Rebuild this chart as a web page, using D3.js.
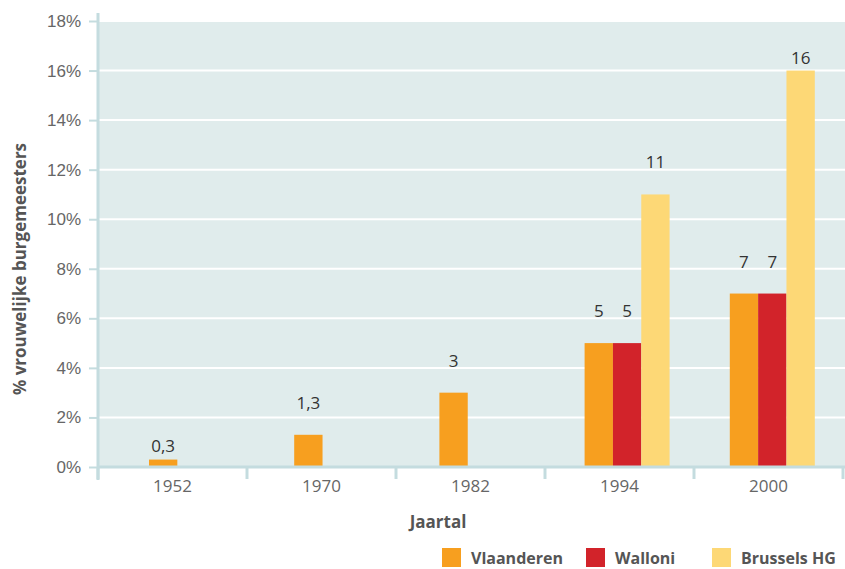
<!DOCTYPE html>
<html>
<head>
<meta charset="utf-8">
<script src="https://cdn.jsdelivr.net/npm/d3@7"></script>
<style>
  body { margin: 0; background: #fff; }
  svg { font-family: "Open Sans", "Noto Sans", sans-serif; }
</style>
</head>
<body>
<div id="chart"></div>
<script>
// data
const years = ["1952", "1970", "1982", "1994", "2000"];
const series = ["Vlaanderen", "Walloni", "Brussels HG"];
const vlaanderen = [0.3, 1.3, 3, 5, 7];
const walloni = [null, null, null, 5, 7];
const brussels = [null, null, null, 11, 16];
const valueLabels = [["0,3", "1,3", "3", "5", "7"], [null, null, null, "5", "7"], [null, null, null, "11", "16"]];
const yTicks = [0, 2, 4, 6, 8, 10, 12, 14, 16, 18];
const colors = ["#f79f1f", "#d2232a", "#fdd876"];

const width = 845, height = 569;
const margin = { top: 21, right: 2, bottom: 102, left: 98 };

const svg = d3.select("#chart").append("svg")
  .attr("width", width).attr("height", height);

// scales
// x0: axis categories, xg: bar groups (slightly tighter spacing than the ticks, as in the original)
const x0 = d3.scaleBand().domain(years).range([margin.left, width - margin.right]);
const xg = d3.scaleBand().domain(years).range([104, 830]);
const x1 = d3.scaleBand().domain(series).range([45, 130]);
const y = d3.scaleLinear().domain([0, 18]).range([height - margin.bottom, margin.top]);

// background + grid
svg.append("rect")
  .attr("x", margin.left).attr("y", y(18))
  .attr("width", width - margin.left).attr("height", y(0) - y(18))
  .attr("fill", "#e0ecec");

svg.append("g").selectAll("line").data(yTicks.filter(d => d > 0)).join("line")
  .attr("x1", margin.left).attr("x2", width)
  .attr("y1", d => y(d)).attr("y2", d => y(d))
  .attr("stroke", "#fff").attr("stroke-width", 2);

// y axis
const yAxis = svg.append("g")
  .attr("transform", `translate(${margin.left},0)`)
  .call(d3.axisLeft(y).tickValues(yTicks).tickSize(9).tickPadding(8).tickFormat(d => d + "%"));
yAxis.select(".domain").remove();
yAxis.selectAll(".tick line").attr("stroke", "#c4dcdf").attr("stroke-width", 2);
yAxis.selectAll("text").attr("fill", "#666").style("font-size", "17px");
svg.append("line")
  .attr("x1", margin.left).attr("x2", margin.left)
  .attr("y1", 13).attr("y2", y(0) + 13)
  .attr("stroke", "#c4dcdf").attr("stroke-width", 3);

// bars
const seriesData = [vlaanderen, walloni, brussels];
seriesData.forEach((vals, si) => {
  const g = svg.append("g");
  const rows = years.map((yr, i) => ({ yr, v: vals[i], label: valueLabels[si][i] })).filter(d => d.v != null);
  g.selectAll("rect").data(rows).join("rect")
    .attr("x", d => xg(d.yr) + x1(series[si]))
    .attr("y", d => y(d.v))
    .attr("width", x1.bandwidth())
    .attr("height", d => y(0) - y(d.v))
    .attr("fill", colors[si]);
  g.selectAll("text").data(rows).join("text")
    .attr("x", d => xg(d.yr) + x1(series[si]) + x1.bandwidth() / 2)
    .attr("y", d => d.v < 1 ? y(d.v) - 8 : Math.max(y(d.v) - 26, 64))
    .attr("text-anchor", "middle")
    .attr("fill", "#333")
    .style("font-size", "17px")
    .text(d => d.label);
});

// x axis
svg.append("line")
  .attr("x1", margin.left).attr("x2", width)
  .attr("y1", y(0)).attr("y2", y(0))
  .attr("stroke", "#c4dcdf").attr("stroke-width", 3);
const bounds = years.map(d => x0(d)).concat([x0.range()[1]]);
svg.append("g").selectAll("line").data(bounds).join("line")
  .attr("x1", d => d).attr("x2", d => d)
  .attr("y1", y(0)).attr("y2", y(0) + 12)
  .attr("stroke", "#c4dcdf").attr("stroke-width", 3);
svg.append("g").selectAll("text").data(years).join("text")
  .attr("x", d => x0(d) + x0.bandwidth() / 2)
  .attr("y", y(0) + 25)
  .attr("text-anchor", "middle")
  .attr("fill", "#666")
  .style("font-size", "17px")
  .text(d => d);

// axis titles
svg.append("text")
  .attr("x", 438).attr("y", 528)
  .attr("text-anchor", "middle")
  .attr("fill", "#555").style("font-size", "17px").style("font-weight", "bold")
  .text("Jaartal");
svg.append("text")
  .attr("transform", "translate(26,269) rotate(-90)")
  .attr("text-anchor", "middle")
  .attr("fill", "#555").style("font-size", "17px").style("font-weight", "bold")
  .text("% vrouwelijke burgemeesters");

// legend
const legendX = [442, 586, 712];
const legend = svg.append("g").selectAll("g").data(series).join("g")
  .attr("transform", (d, i) => `translate(${legendX[i]},548)`);
legend.append("rect")
  .attr("width", 19).attr("height", 19)
  .attr("fill", (d, i) => colors[i]);
legend.append("text")
  .attr("x", 29).attr("y", 16)
  .attr("fill", "#555").style("font-size", "16px").style("font-weight", "bold")
  .text(d => d);
</script>
</body>
</html>
